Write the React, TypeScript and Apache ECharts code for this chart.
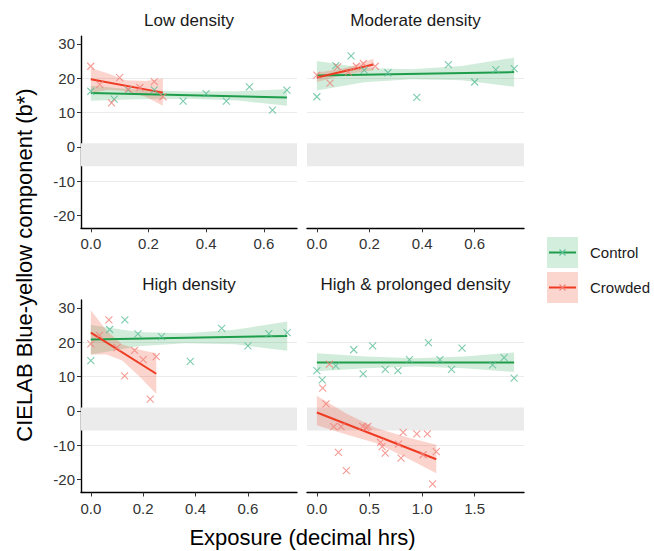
import React, { useEffect, useRef } from "react";
import * as echarts from "echarts";

// ---------- data ----------
const panelTitles = ["Low density", "Moderate density", "High density", "High & prolonged density"];
const seriesNames = ["Control", "Crowded"];

const yTicks = [-20, -10, 0, 10, 20, 30];
const xTicksShort = [0, 0.2, 0.4, 0.6];
const xTicksLong = [0, 0.5, 1.0, 1.5];
const yRange = [-23.8, 32.3];
const xRanges = [
  [-0.034, 0.715],
  [-0.0375, 0.7875],
  [-0.0375, 0.7875],
  [-0.094, 1.969],
];
// grey neutral band (b* values)
const bandRange = [-5.7, 1.0];

// Low density
const lowControl = [
  [0, 16.2], [0.081, 13.9], [0.13, 16.6], [0.22, 16.6], [0.32, 13.3],
  [0.4, 15.5], [0.47, 13.3], [0.55, 17.5], [0.63, 10.7], [0.68, 16.5],
];
const lowCrowded = [
  [0, 23.5], [0.031, 18.2], [0.072, 12.8], [0.1, 20.2], [0.13, 16.8],
  [0.17, 17.3], [0.22, 19.0], [0.25, 14.6],
];
const lowControlFit = [[0, 15.7], [0.68, 14.4]];
const lowCrowdedFit = [[0, 19.7], [0.25, 15.8]];
const lowControlBand = [
  [0, 13.4, 17.8], [0.17, 13.9, 16.6], [0.34, 14.0, 16.1], [0.51, 13.5, 16.2], [0.68, 12.0, 16.8],
];
const lowCrowdedBand = [
  [0, 15.8, 23.0], [0.06, 16.6, 21.4], [0.12, 16.3, 19.4], [0.19, 14.6, 19.2], [0.25, 12.0, 19.9],
];

// Moderate density (control shared with High density)
const sharedControl = [
  [0, 14.6], [0.072, 23.7], [0.13, 26.5], [0.18, 22.4], [0.27, 21.6],
  [0.38, 14.4], [0.5, 24.0], [0.6, 18.9], [0.68, 22.5], [0.75, 22.8],
];
const sharedControlFit = [[0, 20.8], [0.75, 21.8]];
const sharedControlBand = [
  [0, 16.4, 25.0], [0.18, 18.8, 23.0], [0.36, 19.7, 22.6], [0.55, 19.4, 23.6], [0.75, 17.5, 26.0],
];
const modCrowded = [
  [0, 20.9], [0.05, 18.6], [0.079, 23.3], [0.12, 21.8], [0.15, 23.5],
  [0.177, 24.3], [0.222, 23.5],
];
const modCrowdedFit = [[0, 20.2], [0.215, 24.0]];
const modCrowdedBand = [[0, 18.9, 21.6], [0.11, 21.2, 23.0], [0.215, 22.3, 25.7]];

// High density
const highCrowded = [
  [0, 19.5], [0.033, 22.0], [0.069, 26.5], [0.1, 18.4], [0.129, 10.2],
  [0.167, 17.6], [0.2, 14.9], [0.227, 3.4], [0.25, 15.8],
];
const highCrowdedFit = [[0, 22.8], [0.25, 10.8]];
const highCrowdedBand = [
  [0, 16.4, 29.3], [0.06, 16.4, 23.4], [0.12, 14.7, 19.3], [0.19, 9.7, 17.7], [0.25, 4.9, 16.8],
];

// High & prolonged density
const prolControl = [
  [0, 11.7], [0.05, 9.0], [0.18, 13.1], [0.35, 17.8], [0.44, 10.8],
  [0.53, 18.9], [0.65, 12.1], [0.77, 11.7], [0.88, 14.9], [1.06, 19.9],
  [1.17, 14.9], [1.28, 12.1], [1.38, 18.3], [1.67, 13.4], [1.78, 15.5], [1.875, 9.5],
];
const prolCrowded = [
  [0.12, 13.6], [0.055, 6.6], [0.087, 2.0], [0.16, -4.6], [0.23, -4.6],
  [0.205, -12.1], [0.28, -17.4], [0.436, -4.5], [0.469, -4.9], [0.484, -4.5],
  [0.605, -9.2], [0.62, -10.4], [0.65, -12.3], [0.776, -9.7], [0.8, -13.8],
  [0.82, -6.3], [0.95, -6.7], [1.01, -12.8], [1.05, -6.7], [1.135, -11.9], [1.1, -21.3],
];
const prolControlFit = [[0, 14.1], [1.875, 14.1]];
const prolCrowdedFit = [[0, -0.5], [1.135, -14.1]];
const prolControlBand = [
  [0, 11.5, 16.8], [0.47, 12.4, 15.8], [0.94, 12.9, 15.3], [1.4, 12.4, 15.8], [1.875, 11.3, 17.0],
];
const prolCrowdedBand = [
  [0, -4.2, 4.4], [0.28, -6.9, -0.8], [0.56, -9.4, -5.0], [0.85, -13.7, -7.6], [1.135, -18.2, -9.9],
];

const panels = [
  { control: lowControl, crowded: lowCrowded, controlFit: lowControlFit, crowdedFit: lowCrowdedFit, controlBand: lowControlBand, crowdedBand: lowCrowdedBand },
  { control: sharedControl, crowded: modCrowded, controlFit: sharedControlFit, crowdedFit: modCrowdedFit, controlBand: sharedControlBand, crowdedBand: modCrowdedBand },
  { control: sharedControl, crowded: highCrowded, controlFit: sharedControlFit, crowdedFit: highCrowdedFit, controlBand: sharedControlBand, crowdedBand: highCrowdedBand },
  { control: prolControl, crowded: prolCrowded, controlFit: prolControlFit, crowdedFit: prolCrowdedFit, controlBand: prolControlBand, crowdedBand: prolCrowdedBand },
];

// ---------- style ----------
const FONT = "'Liberation Sans', Arial, sans-serif";
const ctrlLine = "#1e9e4a";
const ctrlPoint = "#5dbf98";
const ctrlFill = "rgba(30,158,74,0.2)";
const crowLine = "#ee3b22";
const crowPoint = "#f2827a";
const crowFill = "rgba(238,59,34,0.22)";
const XSYM = "path://M0,0L10,10M10,0L0,10";

const grids = [
  { left: 81, top: 36.1, width: 216, height: 192.2 },
  { left: 307, top: 36.1, width: 217, height: 192.2 },
  { left: 81, top: 300, width: 216, height: 192.5 },
  { left: 307, top: 300, width: 217, height: 192.5 },
];

function ribbon(band: number[][], fill: string, idx: number, z: number) {
  return {
    type: "custom",
    xAxisIndex: idx,
    yAxisIndex: idx,
    data: band,
    encode: { x: 0, y: 1 },
    silent: true,
    z,
    renderItem: (params: any, api: any) => {
      if (params.dataIndex !== 0) return null;
      const upper = band.map((p) => api.coord([p[0], p[2]]));
      const lower = band.map((p) => api.coord([p[0], p[1]])).reverse();
      return {
        type: "polygon",
        shape: { points: upper.concat(lower) },
        style: { fill, stroke: "none" },
      };
    },
  };
}

export default function App() {
  const ref = useRef<HTMLDivElement>(null);
  useEffect(() => {
    if (!ref.current) return;
    const chart = echarts.init(ref.current, undefined, { renderer: "svg" });

    const xAxis = grids.map((_, i) => {
      const ticks = i === 3 ? xTicksLong : xTicksShort;
      return {
        type: "value",
        gridIndex: i,
        min: xRanges[i][0],
        max: xRanges[i][1],
        axisLine: { show: true, onZero: false, lineStyle: { color: "#000", width: 1.4 } },
        axisTick: { show: true, length: 4, customValues: ticks, lineStyle: { color: "#333", width: 1 } },
        axisLabel: {
          customValues: ticks,
          formatter: (v: number) => v.toFixed(1),
          color: "#333",
          fontSize: 15,
          fontFamily: FONT,
          margin: 8,
        },
        splitLine: { show: false },
      };
    });

    const yAxis = grids.map((_, i) => {
      const left = i % 2 === 0;
      return {
        type: "value",
        gridIndex: i,
        min: yRange[0],
        max: yRange[1],
        minInterval: 10,
        maxInterval: 10,
        axisLine: { show: left, onZero: false, lineStyle: { color: "#000", width: 1.4 } },
        axisTick: { show: left, length: 4, customValues: yTicks, lineStyle: { color: "#333", width: 1 } },
        axisLabel: {
          show: left,
          customValues: yTicks,
          color: "#333",
          fontSize: 15,
          fontFamily: FONT,
          margin: 6,
        },
        splitLine: {
          show: true,
          showMinLine: false,
          showMaxLine: false,
          lineStyle: { color: "#ebebeb", width: 1.2 },
        },
      };
    });

    const series: any[] = [];
    panels.forEach((p, i) => {
      series.push({
        type: "line",
        xAxisIndex: i,
        yAxisIndex: i,
        data: [],
        silent: true,
        z: 1,
        markArea: {
          silent: true,
          itemStyle: { color: "#ebebeb" },
          data: [[{ xAxis: xRanges[i][0], yAxis: bandRange[1] }, { xAxis: xRanges[i][1], yAxis: bandRange[0] }]],
        },
      });
      series.push(ribbon(p.controlBand, ctrlFill, i, 2));
      series.push(ribbon(p.crowdedBand, crowFill, i, 3));
      series.push({
        type: "line", name: seriesNames[0], xAxisIndex: i, yAxisIndex: i, data: p.controlFit,
        showSymbol: false, silent: true, z: 4, lineStyle: { color: ctrlLine, width: 2 },
      });
      series.push({
        type: "line", name: seriesNames[1], xAxisIndex: i, yAxisIndex: i, data: p.crowdedFit,
        showSymbol: false, silent: true, z: 4, lineStyle: { color: crowLine, width: 2 },
      });
      series.push({
        type: "scatter", name: seriesNames[0], xAxisIndex: i, yAxisIndex: i, data: p.control,
        symbol: XSYM, symbolSize: 7, silent: true, z: 5,
        itemStyle: { color: "rgba(0,0,0,0)", borderColor: ctrlPoint, borderWidth: 1.1 },
      });
      series.push({
        type: "scatter", name: seriesNames[1], xAxisIndex: i, yAxisIndex: i, data: p.crowded,
        symbol: XSYM, symbolSize: 7, silent: true, z: 5,
        itemStyle: { color: "rgba(0,0,0,0)", borderColor: crowPoint, borderWidth: 1.1 },
      });
    });

    const titleStyle = (text: string) => ({
      text, fontSize: 17, fontFamily: FONT, fill: "#1a1a1a", align: "center", verticalAlign: "middle",
    });

    const legendItem = (y: number, fill: string, line: string, pt: string, label: string) => [
      { type: "rect", shape: { x: 547, y, width: 31, height: 31 }, style: { fill } },
      { type: "line", shape: { x1: 549, y1: y + 15.5, x2: 576, y2: y + 15.5 }, style: { stroke: line, lineWidth: 2 } },
      { type: "line", shape: { x1: 559.5, y1: y + 12.5, x2: 565.5, y2: y + 18.5 }, style: { stroke: pt, lineWidth: 1.1 } },
      { type: "line", shape: { x1: 565.5, y1: y + 12.5, x2: 559.5, y2: y + 18.5 }, style: { stroke: pt, lineWidth: 1.1 } },
      { type: "text", x: 590, y: y + 15.5, style: { text: label, fontSize: 15, fontFamily: FONT, fill: "#1a1a1a", verticalAlign: "middle" } },
    ];

    chart.setOption({
      animation: false,
      textStyle: { fontFamily: FONT },
      grid: grids,
      xAxis,
      yAxis,
      series,
      graphic: [
        { type: "text", x: 189, y: 20.5, style: titleStyle(panelTitles[0]) },
        { type: "text", x: 415.5, y: 20.5, style: titleStyle(panelTitles[1]) },
        { type: "text", x: 189, y: 284, style: titleStyle(panelTitles[2]) },
        { type: "text", x: 415.5, y: 284, style: titleStyle(panelTitles[3]) },
        {
          type: "text", x: 302.5, y: 537,
          style: { text: "Exposure (decimal hrs)", fontSize: 22, fontFamily: FONT, fill: "#000", align: "center", verticalAlign: "middle" },
        },
        {
          type: "text", x: 24, y: 265, rotation: Math.PI / 2,
          style: { text: "CIELAB Blue-yellow component (b*)", fontSize: 22, fontFamily: FONT, fill: "#000", align: "center", verticalAlign: "middle" },
        },
        ...legendItem(237, "#d3eedd", ctrlLine, ctrlPoint, seriesNames[0]),
        ...legendItem(272, "#fbd6cf", crowLine, crowPoint, seriesNames[1]),
      ],
    });
    return () => chart.dispose();
  }, []);

  return (
    <div
      ref={ref}
      style={{ position: "fixed", left: 0, top: 0, width: 654, height: 551, background: "#fff" }}
    />
  );
}
